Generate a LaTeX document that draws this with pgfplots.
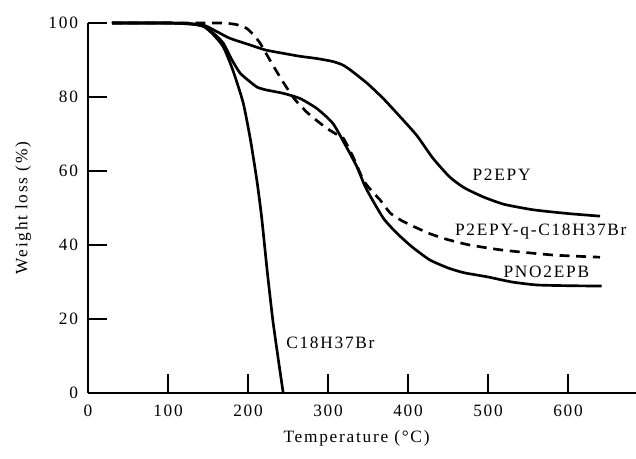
\documentclass[border=0pt]{standalone}
\usepackage{fontspec}
\setmainfont{Liberation Serif}[LetterSpace=10]
\usepackage{pgfplots}
\pgfplotsset{compat=1.18}

\begin{document}
\fontsize{13pt}{15pt}\selectfont
\begin{tikzpicture}
\begin{axis}[
  scale only axis,
  width=411pt, height=277.5pt,
  xmin=0, xmax=685,
  ymin=0, ymax=100,
  axis lines*=left,
  axis line style={line width=1.2pt},
  tick align=inside,
  major tick length=14pt,
  tick style={line width=1.1pt, black},
  xtick={0,100,...,600},
  ytick={0,20,...,100},
  /pgf/number format/assume math mode=true,
  xticklabel style={yshift=-4.5pt},
  yticklabel style={xshift=-3pt},
  xlabel={Temperature (°C)},
  ylabel={Weight loss (\%)},
  xlabel style={at={(axis description cs:0.49,0)}, anchor=center, yshift=-34pt},
  ylabel style={at={(axis description cs:-0.118,0.5)}, anchor=center},
  clip=false,
  no markers,
  every axis plot post/.append style={line width=2pt, black, mark=none, smooth, tension=0.35},
  ]

  % C18H37Br
  \addplot coordinates {
    (30,100) (100,100) (130,99.8) (145,99) (156,97) (169,93.6) (181,87.3)
    (194,78.4) (203,68.5) (211,57.6) (217,47.6) (224,33) (231,19.7)
    (238,8.9) (244,0)
  };

  % P2EPY
  \addplot coordinates {
    (30,100) (100,100) (130,99.7) (146,99.3) (160,97.8) (177,95.9) (202,94.1)
    (222,92.7) (244,91.8) (265,91) (286,90.4) (306,89.6) (318,88.7) (328,87.3)
    (349,83.7) (369,79.6) (390,74.7) (411,69.6) (431,63.5) (452,58.4)
    (470,55.5) (494,53) (520,51) (557,49.5) (600,48.5) (640,47.8)
  };

  % PNO2EPB
  \addplot coordinates {
    (30,100) (100,100) (130,99.7) (146,99) (158,97) (169,94.6) (180,90)
    (190,86.5) (202,84.2) (212,82.6) (223,81.9) (244,81) (265,79.6)
    (286,76.9) (306,72.9) (323,66.5) (336,61.2) (346,56)
    (356,52) (370,47) (386,43.2) (405,39.5) (427,36) (450,33.8) (470,32.5)
    (499,31.4) (530,30) (561,29.2) (600,29) (642,28.9)
  };

  % P2EPY-q-C18H37Br
  \addplot[dash pattern=on 7.5pt off 5pt] coordinates {
    (30,100) (150,100) (169,100) (185,99.6) (198,98.6) (207,96.8) (215,94.6)
    (222,92) (230,89) (244,84) (258,79.5) (273,76) (285,73.8) (298,71.6)
    (310,70) (319,68.9) (331,64) (344,57.6) (355,54.5) (365,52.2) (378,48.6)
    (392,46.6) (407,45) (428,43) (449,41.5) (477,40) (519,38.6) (581,37.3)
    (640,36.7)
  };

  \node at (axis cs:517,59) {P2EPY};
  \node at (axis cs:566,43.5) {P2EPY-q-C18H37Br};
  \node at (axis cs:573,32.7) {PNO2EPB};
  \node at (axis cs:303,13.6) {C18H37Br};
\end{axis}
\pgfresetboundingbox
\path[use as bounding box] (-66pt,-48.75pt) rectangle (411pt,294.75pt);
\end{tikzpicture}
\end{document}
